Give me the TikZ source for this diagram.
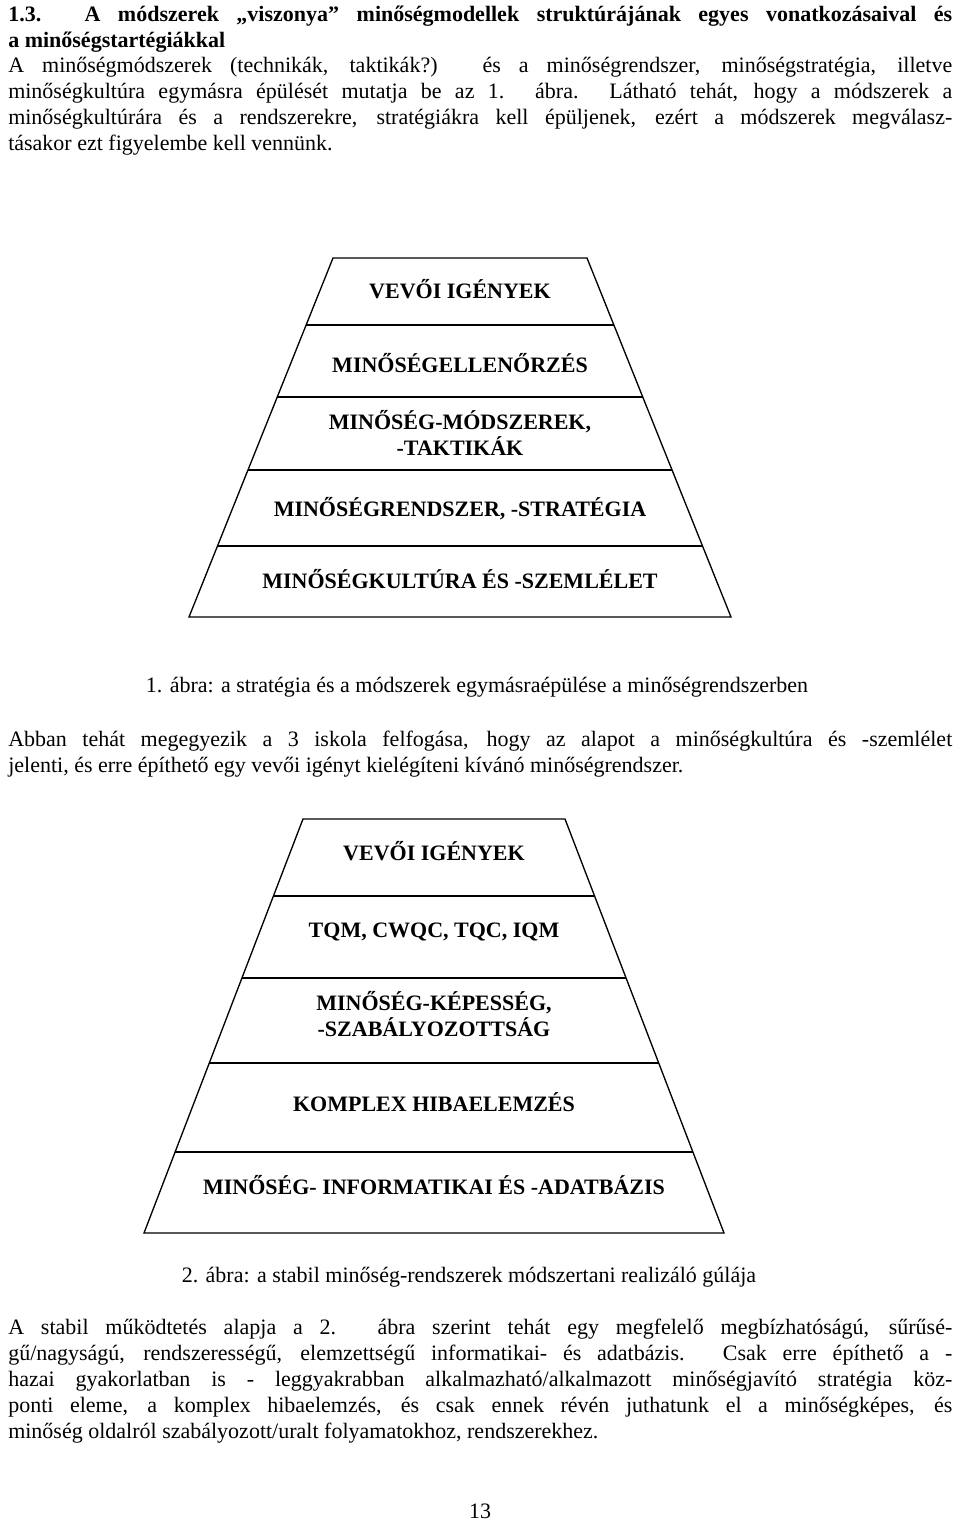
\documentclass[tikz,border=0pt]{standalone}
\usepackage{fontspec}
\setmainfont{Liberation Serif}
\begin{document}
\begin{tikzpicture}[x=0.75pt,y=-0.75pt,
  para/.style={anchor=north west,inner sep=0pt,text width=708pt,align=justify,font=\fontsize{16.5}{19.5}\selectfont},
  lay/.style={font=\fontsize{16.5}{19.5}\selectfont\bfseries,align=center,inner sep=0pt},
  captxt/.style={font=\fontsize{16.5}{19.5}\selectfont,inner sep=0pt}]
\useasboundingbox (0,0) rectangle (960,1521);
\node[para,font=\fontsize{16.5}{19.5}\selectfont\bfseries] (h) at (8,6) {1.3. A módszerek „viszonya” minőségmodellek struktúrájának egyes vonatkozásaival és\linebreak a minőségstartégiákkal};
\node[para] (p1) at (8,57) {A minőségmódszerek (technikák, taktikák?) és a minőségrendszer, minőségstratégia, illetve\linebreak minőségkultúra egymásra épülését mutatja be az 1. ábra. Látható tehát, hogy a módszerek a\linebreak minőségkultúrára és a rendszerekre, stratégiákra kell épüljenek, ezért a módszerek megválasz-\linebreak tásakor ezt figyelembe kell vennünk.};
% pyramid 1
\draw[line width=1pt] (333,258) -- (587,258) -- (731,617) -- (189,617) -- cycle;
\foreach \y in {325,397,470,546}{
  \pgfmathsetmacro\d{(\y-258)/359*144}
  \draw[line width=1pt] (333-\d,\y) -- (587+\d,\y);}
\node[lay] (a1) at (460,289) {VEVŐI IGÉNYEK};
\node[lay] (a2) at (460,363) {MINŐSÉGELLENŐRZÉS};
\node[lay] (a3) at (460,433) {MINŐSÉG-MÓDSZEREK,\\-TAKTIKÁK};
\node[lay] (a4) at (460,509) {MINŐSÉGRENDSZER, -STRATÉGIA};
\node[lay] (a5) at (460,579) {MINŐSÉGKULTÚRA ÉS -SZEMLÉLET};
\node[captxt] (c1) at (477,687) {1. ábra: a stratégia és a módszerek egymásraépülése a minőségrendszerben};
\node[para] (p2) at (8,731) {Abban tehát megegyezik a 3 iskola felfogása, hogy az alapot a minőségkultúra és -szemlélet\linebreak jelenti, és erre építhető egy vevői igényt kielégíteni kívánó minőségrendszer.};
% pyramid 2
\draw[line width=1pt] (303,819) -- (565,819) -- (724,1233) -- (144,1233) -- cycle;
\foreach \y in {896,978,1063,1152}{
  \pgfmathsetmacro\d{(\y-819)/414*159}
  \draw[line width=1pt] (303-\d,\y) -- (565+\d,\y);}
\node[lay] (b1) at (434,851) {VEVŐI IGÉNYEK};
\node[lay] (b2) at (434,932) {TQM, CWQC, TQC, IQM};
\node[lay] (b3) at (434,1014) {MINŐSÉG-KÉPESSÉG,\\-SZABÁLYOZOTTSÁG};
\node[lay] (b4) at (434,1102) {KOMPLEX HIBAELEMZÉS};
\node[lay] (b5) at (434,1185) {MINŐSÉG- INFORMATIKAI ÉS -ADATBÁZIS};
\node[captxt] (c2) at (469,1277) {2. ábra: a stabil minőség-rendszerek módszertani realizáló gúlája};
\node[para] (p3) at (8,1319) {A stabil működtetés alapja a 2. ábra szerint tehát egy megfelelő megbízhatóságú, sűrűsé-\linebreak gű/nagyságú, rendszerességű, elemzettségű informatikai- és adatbázis. Csak erre építhető a -\linebreak hazai gyakorlatban is - leggyakrabban alkalmazható/alkalmazott minőségjavító stratégia köz-\linebreak ponti eleme, a komplex hibaelemzés, és csak ennek révén juthatunk el a minőségképes, és\linebreak minőség oldalról szabályozott/uralt folyamatokhoz, rendszerekhez.};
\node[captxt] (pn) at (480,1511) {13};
\end{tikzpicture}
\end{document}
